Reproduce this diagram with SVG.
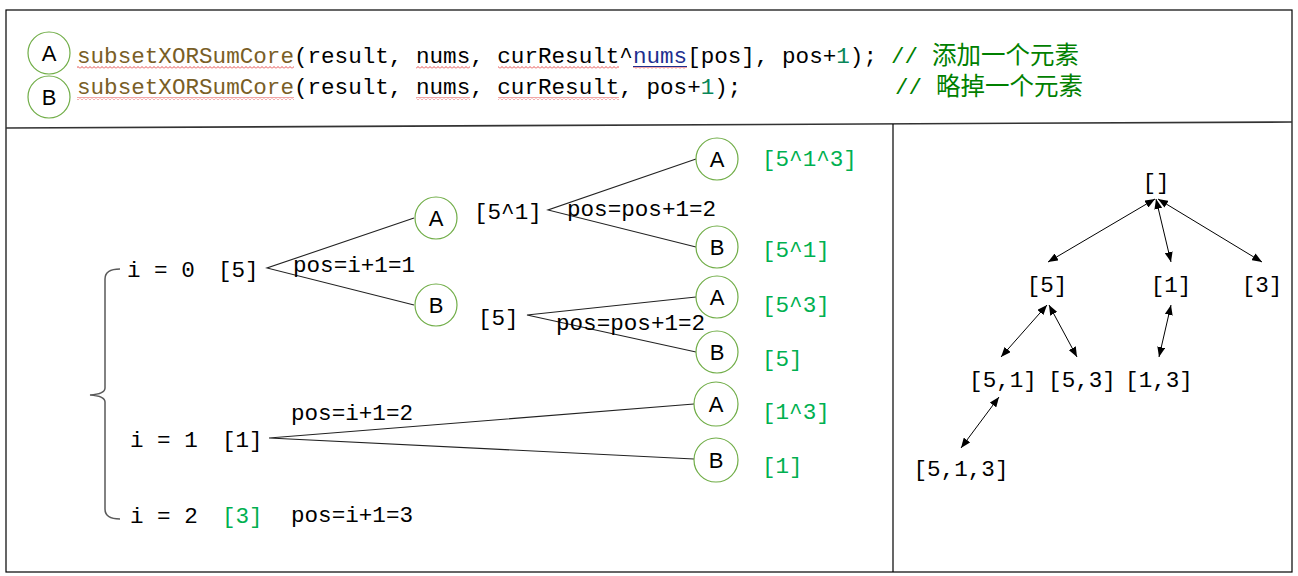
<svg xmlns="http://www.w3.org/2000/svg" width="1298" height="576" viewBox="0 0 1298 576">
<style>
.mono{font-family:"Liberation Mono","DejaVu Sans Mono",monospace;font-size:22.6px;fill:#000}
.fn{fill:#795E26}
.blue{fill:#1F2F8F}
.num{fill:#098658}
.cmt{fill:#008000}
.cjk{font-family:"Noto Sans CJK SC",sans-serif;font-size:24.5px}
.res{fill:#00B050}
.circ{fill:#fff;stroke:#70AD47;stroke-width:1.2}
.lbl{font-family:"Liberation Sans","Open Sans",sans-serif;font-size:22px;fill:#000;text-anchor:middle}
.edge{stroke:#222;stroke-width:1.1;fill:none}
.arr{stroke:#000;stroke-width:1;fill:none;marker-start:url(#ah);marker-end:url(#ah)}
.frame{fill:none;stroke:#000;stroke-width:1.2}
</style>
<defs>
<marker id="ah" viewBox="0 0 10 8" refX="10" refY="4" markerWidth="10" markerHeight="8" markerUnits="userSpaceOnUse" orient="auto-start-reverse">
<path d="M0,0 L10,4 L0,8 Z" fill="#000"/>
</marker>
<pattern id="squig" width="4" height="3" patternUnits="userSpaceOnUse">
<path d="M0,2.5 L2,0.5 L4,2.5" fill="none" stroke="#e02020" stroke-width="0.8"/>
</pattern>
</defs>
<rect width="1298" height="576" fill="#fff"/>

<g id="frame">
<rect class="frame" x="6" y="10" width="1286" height="562"/>
<line x1="6" y1="128" x2="1292" y2="122" stroke="#333" stroke-width="1.6"/>
<line x1="893" y1="124" x2="893" y2="572" stroke="#000" stroke-width="1.2"/>
</g>

<g id="code">
<g id="legendA"><circle class="circ" cx="49" cy="53" r="21"/><text class="lbl" x="49" y="61">A</text></g>
<g id="legendB"><circle class="circ" cx="49" cy="97" r="21"/><text class="lbl" x="49" y="105">B</text></g>
<rect x="77" y="66" width="217" height="3" fill="url(#squig)"/>
<rect x="416" y="66" width="54" height="3" fill="url(#squig)"/>
<rect x="498" y="66" width="121" height="3" fill="url(#squig)"/>
<rect x="633" y="66" width="54" height="3" fill="url(#squig)"/>
<line x1="633" y1="66.5" x2="687" y2="66.5" stroke="#1F2F8F" stroke-width="1"/>
<rect x="77" y="97" width="217" height="3" fill="url(#squig)"/>
<rect x="416" y="97" width="54" height="3" fill="url(#squig)"/>
<rect x="498" y="97" width="121" height="3" fill="url(#squig)"/>
<text class="mono" x="77" y="63"><tspan class="fn">subsetXORSumCore</tspan>(result, nums, curResult^<tspan class="blue">nums</tspan>[pos], pos+<tspan class="num">1</tspan>);</text>
<text class="mono cmt" x="891" y="63">//</text>
<text class="cjk cmt" x="932" y="64">添加一个元素</text>
<text class="mono" x="77" y="94"><tspan class="fn">subsetXORSumCore</tspan>(result, nums, curResult, pos+<tspan class="num">1</tspan>);</text>
<text class="mono cmt" x="895" y="94">//</text>
<text class="cjk cmt" x="936" y="95">略掉一个元素</text>
</g>

<g id="connectors">
<path d="M120,269 Q105,269 105,279 L105,388 Q105,394 90,395 Q105,396 105,402 L105,509 Q105,519 120,519" fill="none" stroke="#595959" stroke-width="1.5"/>
<polyline class="edge" points="414,218 267,268 414,305"/>
<polyline class="edge" points="696,159 548,210 696,247"/>
<polyline class="edge" points="696,297 527,315 696,352"/>
<polyline class="edge" points="694,404 269,438 694,459"/>
<line class="arr" x1="1155" y1="199" x2="1048" y2="262"/>
<line class="arr" x1="1156" y1="199" x2="1171" y2="262"/>
<line class="arr" x1="1158" y1="199" x2="1262" y2="262"/>
<line class="arr" x1="1047" y1="305" x2="1001" y2="357"/>
<line class="arr" x1="1049" y1="305" x2="1077" y2="357"/>
<line class="arr" x1="1171" y1="305" x2="1159" y2="357"/>
<line class="arr" x1="999" y1="397" x2="961" y2="448"/>
</g>

<g id="left-tree">
<text class="mono" x="127" y="277">i = 0</text>
<text class="mono" x="218" y="277">[5]</text>
<text class="mono" x="293" y="272">pos=i+1=1</text>
<g id="n-A1"><circle class="circ" cx="436" cy="218" r="21"/><text class="lbl" x="436" y="226">A</text></g>
<g id="n-B1"><circle class="circ" cx="436" cy="305" r="21"/><text class="lbl" x="436" y="313">B</text></g>
<text class="mono" x="474" y="219">[5^1]</text>
<text class="mono" x="567" y="216">pos=pos+1=2</text>
<text class="mono" x="478" y="325">[5]</text>
<text class="mono" x="556" y="330">pos=pos+1=2</text>
<g id="n-A2"><circle class="circ" cx="717" cy="159" r="21"/><text class="lbl" x="717" y="167">A</text></g>
<g id="n-B2"><circle class="circ" cx="717" cy="247" r="21"/><text class="lbl" x="717" y="255">B</text></g>
<g id="n-A3"><circle class="circ" cx="717" cy="297" r="21"/><text class="lbl" x="717" y="305">A</text></g>
<g id="n-B3"><circle class="circ" cx="717" cy="352" r="21"/><text class="lbl" x="717" y="360">B</text></g>
<text class="mono res" x="762" y="166">[5^1^3]</text>
<text class="mono res" x="762" y="257">[5^1]</text>
<text class="mono res" x="762" y="312">[5^3]</text>
<text class="mono res" x="762" y="366">[5]</text>
<text class="mono" x="130" y="447">i = 1</text>
<text class="mono" x="222" y="447">[1]</text>
<text class="mono" x="291" y="420">pos=i+1=2</text>
<g id="n-A4"><circle class="circ" cx="716" cy="404" r="22"/><text class="lbl" x="716" y="412">A</text></g>
<g id="n-B4"><circle class="circ" cx="716" cy="460" r="22"/><text class="lbl" x="716" y="468">B</text></g>
<text class="mono res" x="762" y="419">[1^3]</text>
<text class="mono res" x="762" y="473">[1]</text>
<text class="mono" x="130" y="523">i = 2</text>
<text class="mono res" x="222" y="523">[3]</text>
<text class="mono" x="291" y="522">pos=i+1=3</text>
</g>

<g id="right-tree" text-anchor="middle">
<g id="r-root"><text class="mono" x="1156" y="189" text-anchor="middle">[]</text></g>
<g id="r-5"><text class="mono" x="1047" y="292" text-anchor="middle">[5]</text></g>
<g id="r-1"><text class="mono" x="1171" y="292" text-anchor="middle">[1]</text></g>
<g id="r-3"><text class="mono" x="1262" y="292" text-anchor="middle">[3]</text></g>
<g id="r-51"><text class="mono" x="1003" y="387" text-anchor="middle">[5,1]</text></g>
<g id="r-53"><text class="mono" x="1082" y="387" text-anchor="middle">[5,3]</text></g>
<g id="r-13"><text class="mono" x="1159" y="387" text-anchor="middle">[1,3]</text></g>
<g id="r-513"><text class="mono" x="961" y="476" text-anchor="middle">[5,1,3]</text></g>
</g>
</svg>
